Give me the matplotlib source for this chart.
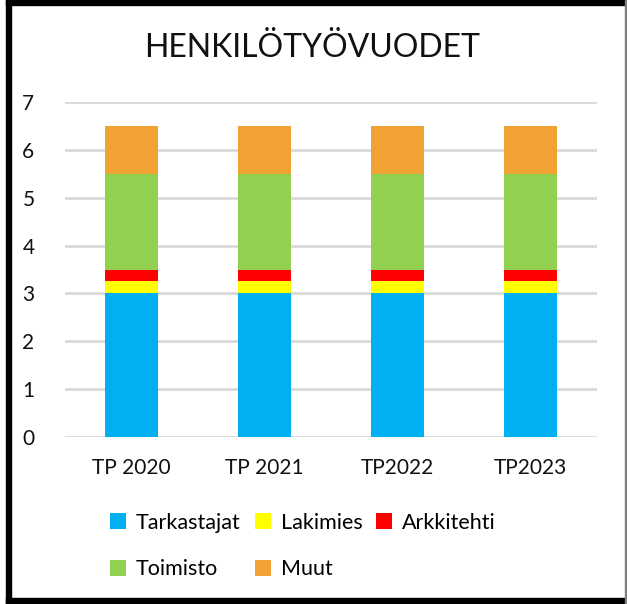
import matplotlib
matplotlib.use("Agg")
import matplotlib.pyplot as plt
from matplotlib.patches import Rectangle
import numpy as np

categories = ["TP 2020", "TP 2021", "TP2022", "TP2023"]
series_names = ["Tarkastajat", "Lakimies", "Arkkitehti", "Toimisto", "Muut"]
tarkastajat = [3, 3, 3, 3]
lakimies = [0.25, 0.25, 0.25, 0.25]
arkkitehti = [0.25, 0.25, 0.25, 0.25]
toimisto = [2, 2, 2, 2]
muut = [1, 1, 1, 1]
colors = ["#00b0f0", "#ffff00", "#ff0000", "#92d050", "#f0a232"]

plt.rcParams['font.family'] = ['Lato', 'DejaVu Sans']

fig = plt.figure(figsize=(6.27, 6.04), dpi=100)
W, H = 627, 604
ax = fig.add_axes([65 / W, 1 - 437 / H, 532 / W, 335 / H])

x = np.arange(len(categories))
bottom = np.zeros(len(categories))
handles = []
for name, vals, c in zip(series_names,
                         [tarkastajat, lakimies, arkkitehti, toimisto, muut],
                         colors):
    h = ax.bar(x, vals, width=0.4, bottom=bottom, color=c, label=name, zorder=3)
    handles.append(h)
    bottom += np.array(vals)

ax.set_xlim(-0.5, len(categories) - 0.5)
ax.set_ylim(0, 7)
ax.set_yticks(range(0, 8))
ax.set_xticks(x)
ax.set_xticklabels(categories)
ax.yaxis.grid(True, color="#d9d9d9", linewidth=2, zorder=0)
for s in ax.spines.values():
    s.set_visible(False)
ax.tick_params(axis="both", length=0, labelsize=15, colors="#111111")
ax.tick_params(axis="y", pad=22)
ax.tick_params(axis="x", pad=15)

fig.text(312 / W, 1 - 48 / H, "HENKILÖTYÖVUODET", ha="center", va="center",
         fontsize=23, color="#111111")

# legend filled row-wise: reorder for column-major filling
order = [0, 3, 1, 4, 2]
leg = fig.legend([handles[i] for i in order], [series_names[i] for i in order],
                 ncol=3, loc="center", bbox_to_anchor=(303 / W, 1 - 546 / H),
                 frameon=False, fontsize=15.5, handlelength=0.75, handleheight=0.75,
                 handletextpad=0.45, columnspacing=0.65, labelspacing=1.25)

# frame around the chart
fig.patches.append(Rectangle((6 / W, 0), 5 / W, 1, transform=fig.transFigure,
                             color="black", zorder=10))
fig.patches.append(Rectangle((6 / W, 1 - 5 / H), 1 - 6 / W, 5 / H,
                             transform=fig.transFigure, color="black", zorder=10))
fig.patches.append(Rectangle((6 / W, 0), 1 - 6 / W, 6 / H,
                             transform=fig.transFigure, color="black", zorder=10))
fig.patches.append(Rectangle((625 / W, 0), 1.5 / W, 1, transform=fig.transFigure,
                             color="#808080", zorder=10))

fig.savefig("out.png", dpi=100)
